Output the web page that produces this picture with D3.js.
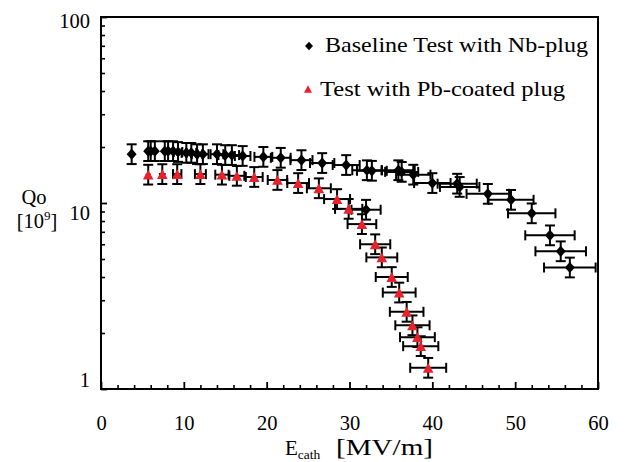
<!DOCTYPE html>
<html>
<head>
<meta charset="utf-8">
<script src="https://cdn.jsdelivr.net/npm/d3@7"></script>
<style>
  html, body { margin: 0; padding: 0; background: #fff; }
  svg { display: block; }
</style>
</head>
<body>
<svg id="chart" width="638" height="462"></svg>
<script>
// ---- Data (E_cath in MV/m, Qo in 1e9) ----
const baselineE = [3.7, 5.7, 6.0, 6.5, 7.7, 8.1, 8.7, 9.3, 10.3, 10.9, 11.6, 12.3, 14.0, 15.0, 15.8, 17.1,
  19.6, 21.7, 24.2, 26.7, 29.6, 32.1, 32.7, 32.0, 35.9, 36.3, 37.7, 40.0, 43.0, 43.3, 46.7, 49.5, 52.0, 54.2, 55.5, 56.6];
const baselineQ = [18.3, 19.0, 19.0, 19.0, 19.0, 19.0, 19.0, 18.8, 18.6, 18.6, 18.3, 18.3, 18.3, 18.1, 18.1, 17.9,
  17.7, 17.5, 17.0, 16.4, 16.0, 15.0, 14.9, 9.2, 15.0, 14.7, 14.2, 12.8, 12.7, 12.2, 11.2, 10.4, 8.8, 6.7, 5.5, 4.5];

const pbE = [5.7, 7.4, 9.2, 12.0, 14.6, 16.4, 18.5, 21.3, 23.8, 26.3, 28.5, 29.9, 31.5, 33.1, 33.9, 35.1,
  36.0, 36.9, 37.6, 38.2, 38.6, 39.5];
const pbQ = [14.2, 14.3, 14.3, 14.3, 14.2, 14.0, 13.8, 13.3, 12.8, 12.0, 10.5, 9.3, 7.7, 6.0, 5.1, 4.0,
  3.3, 2.6, 2.2, 1.9, 1.7, 1.3];

// measurement uncertainties (relative)
const eRelErr = 0.055;
const qErrFactor = 1.13;

const xTicks = [0, 10, 20, 30, 40, 50, 60];
const yTicks = [1, 10, 100];
const legendLabels = ["Baseline Test with Nb-plug", "Test with Pb-coated  plug"];

// ---- Layout ----
const FONT = "'Liberation Serif'";
const FS = "20.5px";
const svg = d3.select("#chart");
const x = d3.scaleLinear().domain([0, 60]).range([101, 598]);
const y = d3.scaleLog().domain([1, 100]).range([389, 17]);
const red = "#e8212b";

// frame
svg.append("rect")
  .attr("x", x(0)).attr("y", y(100))
  .attr("width", x(60) - x(0)).attr("height", y(1) - y(100))
  .attr("fill", "none").attr("stroke", "#000").attr("stroke-width", 2);

// x axis: minor ticks
const xMinor = d3.range(0, 61, 2).filter(v => v % 10 !== 0);
svg.append("g").attr("transform", `translate(0,${y(1)})`)
  .call(d3.axisBottom(x).tickValues(xMinor).tickSize(-4).tickFormat(""))
  .call(g => g.select(".domain").remove())
  .call(g => g.selectAll("line").attr("stroke-width", 1.6));
// x axis: major ticks
svg.append("g").attr("transform", `translate(0,${y(1)})`)
  .call(d3.axisBottom(x).tickValues(xTicks).tickSize(-7).tickFormat(d3.format("d")))
  .call(g => g.attr("font-family", null).attr("font-size", null))
  .call(g => g.select(".domain").remove())
  .call(g => g.selectAll("line").attr("stroke-width", 1.8))
  .call(g => g.selectAll("text").attr("y", 41).attr("dy", null)
    .style("font-size", FS).style("font-family", FONT).attr("fill", "#000"));

// y axis: minor ticks
const yMinor = [];
[1, 10].forEach(b => { for (let k = 2; k <= 9; k++) yMinor.push(b * k); });
svg.append("g").attr("transform", `translate(${x(0)},0)`)
  .call(d3.axisLeft(y).tickValues(yMinor).tickSize(-4).tickFormat(""))
  .call(g => g.select(".domain").remove())
  .call(g => g.selectAll("line").attr("stroke-width", 1.6));
// y axis: major ticks
const yLabelShift = { 1: -10, 10: 9, 100: 3 };
svg.append("g").attr("transform", `translate(${x(0)},0)`)
  .call(d3.axisLeft(y).tickValues(yTicks).tickSize(-6).tickPadding(11).tickFormat(d3.format("d")))
  .call(g => g.attr("font-family", null).attr("font-size", null))
  .call(g => g.select(".domain").remove())
  .call(g => g.selectAll("line").attr("stroke-width", 1.8))
  .call(g => g.selectAll("text")
    .style("font-size", FS).style("font-family", FONT).attr("fill", "#000")
    .attr("dy", null)
    .attr("y", d => yLabelShift[d] + 7));

// axis titles
const xl = svg.append("text").attr("x", 285).attr("y", 455)
  .style("font-size", "21px").style("font-family", FONT);
xl.append("tspan").text("E");
xl.append("tspan").style("font-size", "13.5px").attr("dy", 4).text("cath");
svg.append("text").attr("x", 336).attr("y", 455)
  .style("font-size", "22.5px").style("font-family", FONT)
  .attr("textLength", 97).attr("lengthAdjust", "spacingAndGlyphs").text("[MV/m]");

svg.append("text").attr("x", 34).attr("y", 204).attr("text-anchor", "middle")
  .style("font-size", FS).style("font-family", FONT).text("Qo");
const yl = svg.append("text").attr("x", 37).attr("y", 228).attr("text-anchor", "middle")
  .style("font-size", FS).style("font-family", FONT);
yl.append("tspan").text("[10");
yl.append("tspan").style("font-size", "13px").attr("dy", -8).text("9");
yl.append("tspan").attr("dy", 8).text("]");

// ---- markers ----
const diamondPath = (hw, hh) => `M0,${-hh}L${hw},0L0,${hh}L${-hw},0Z`;
const trianglePath = (hw, hh) => `M0,${-hh}L${hw},${hh}L${-hw},${hh}Z`;

function drawSeries(E, Q, shape, color) {
  const data = E.map((e, i) => ({ e, q: Q[i] }));
  const g = svg.append("g");
  const eb = g.append("g").attr("stroke", "#000").attr("stroke-width", 2).attr("fill", "none");
  data.forEach(d => {
    const cx = x(d.e), cy = y(d.q);
    const x0 = x(d.e * (1 - eRelErr)), x1 = x(d.e * (1 + eRelErr));
    const y0 = y(d.q * qErrFactor), y1 = y(d.q / qErrFactor);
    eb.append("line").attr("x1", x0).attr("x2", x1).attr("y1", cy).attr("y2", cy);
    eb.append("line").attr("x1", cx).attr("x2", cx).attr("y1", y0).attr("y2", y1);
    if (x1 - x0 > 8) {
      eb.append("line").attr("x1", x0).attr("x2", x0).attr("y1", cy - 5).attr("y2", cy + 5);
      eb.append("line").attr("x1", x1).attr("x2", x1).attr("y1", cy - 5).attr("y2", cy + 5);
    }
    eb.append("line").attr("x1", cx - 5).attr("x2", cx + 5).attr("y1", y0).attr("y2", y0);
    eb.append("line").attr("x1", cx - 5).attr("x2", cx + 5).attr("y1", y1).attr("y2", y1);
  });
  g.append("g").selectAll("path").data(data).join("path")
    .attr("transform", d => `translate(${x(d.e)},${y(d.q)})`)
    .attr("d", shape)
    .attr("fill", color);
}

drawSeries(baselineE, baselineQ, diamondPath(5, 5.6), "#000");
drawSeries(pbE, pbQ, trianglePath(5.3, 4.9), red);

// ---- legend ----
svg.append("path").attr("transform", "translate(309,46)").attr("d", diamondPath(4, 4.2)).attr("fill", "#000");
svg.append("text").attr("x", 325).attr("y", 52)
  .style("font-size", "21.5px").style("font-family", FONT)
  .attr("textLength", 263).attr("lengthAdjust", "spacingAndGlyphs").text(legendLabels[0]);
svg.append("path").attr("transform", "translate(308,89)").attr("d", trianglePath(4, 3.8)).attr("fill", red);
svg.append("text").attr("x", 320).attr("y", 96)
  .style("font-size", "21.5px").style("font-family", FONT)
  .attr("textLength", 245).attr("lengthAdjust", "spacingAndGlyphs").text(legendLabels[1]);
</script>
</body>
</html>
